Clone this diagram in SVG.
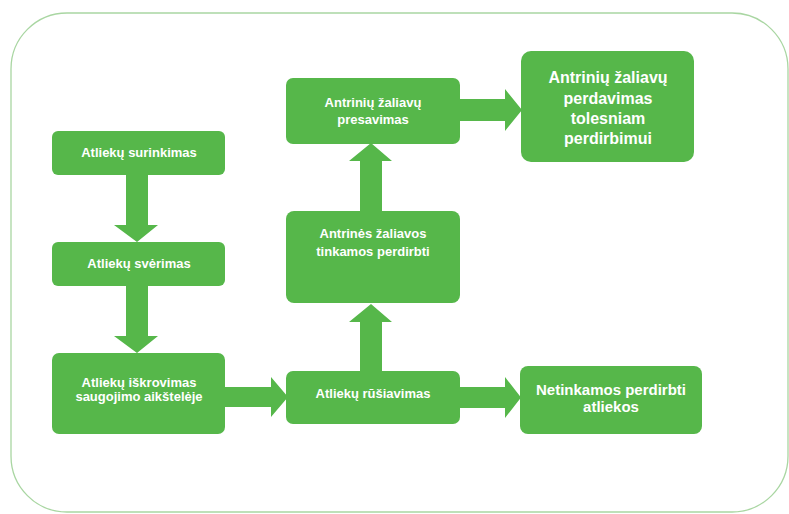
<svg xmlns="http://www.w3.org/2000/svg" width="789" height="514" viewBox="0 0 789 514">
<style>
.box{fill:#56b74a}
.arr{fill:#56b74a}
.t{fill:#ffffff;font-family:"Liberation Sans",Arial,sans-serif;font-weight:bold;font-size:13px;text-anchor:middle}
.tl{fill:#ffffff;font-family:"Liberation Sans",Arial,sans-serif;font-weight:bold;text-anchor:middle}
</style>
<rect x="11" y="13" width="777" height="499" rx="56" ry="56" fill="#ffffff" stroke="#a9d6a2" stroke-width="1.3"/>
<g id="connectors">
<polygon class="arr" points="126,175 148,175 148,225 158,225 137,242 114,225 126,225"/>
<polygon class="arr" points="126,286 148,286 148,336 158,336 137,353 114,336 126,336"/>
<polygon class="arr" points="225,387 271,387 271,377 288,397 271,417 271,407 225,407"/>
<polygon class="arr" points="460,387 505,387 505,377 521,397.5 505,418 505,408 460,408"/>
<polygon class="arr" points="360,371 382,371 382,322 392,322 371,304 349,322 360,322"/>
<polygon class="arr" points="360,211 382,211 382,161 392,161 371,143 349,161 360,161"/>
<polygon class="arr" points="460,99 505,99 505,89 522,110 505,131 505,121 460,121"/>
</g>
<g id="n1"><rect class="box" x="52" y="131" width="173" height="44" rx="6"/><text class="t" x="139" y="157">Atliekų surinkimas</text></g>
<g id="n2"><rect class="box" x="52" y="242" width="173" height="44" rx="6"/><text class="t" x="139" y="268">Atliekų svėrimas</text></g>
<g id="n3"><rect class="box" x="52" y="353" width="173" height="81" rx="7"/><text class="t" x="139" y="387">Atliekų iškrovimas</text><text class="t" x="139" y="401">saugojimo aikštelėje</text></g>
<g id="n4"><rect class="box" x="286" y="371" width="174" height="53" rx="7"/><text class="t" x="373" y="398">Atliekų rūšiavimas</text></g>
<g id="n5"><rect class="box" x="520" y="366" width="182" height="68" rx="8"/><text class="tl" font-size="15" x="611" y="395">Netinkamos perdirbti</text><text class="tl" font-size="15" x="611" y="412">atliekos</text></g>
<g id="n6"><rect class="box" x="286" y="211" width="174" height="92" rx="8"/><text class="t" x="373" y="238">Antrinės žaliavos</text><text class="t" x="373" y="256">tinkamos perdirbti</text></g>
<g id="n7"><rect class="box" x="286" y="78" width="174" height="66" rx="7"/><text class="t" x="373" y="107">Antrinių žaliavų</text><text class="t" x="373" y="124">presavimas</text></g>
<g id="n8"><rect class="box" x="521" y="51" width="173" height="111" rx="10"/><text class="tl" font-size="16" x="608" y="83">Antrinių žaliavų</text><text class="tl" font-size="16" x="608" y="104">perdavimas</text><text class="tl" font-size="16" x="608" y="124">tolesniam</text><text class="tl" font-size="16" x="608" y="144">perdirbimui</text></g>
</svg>
